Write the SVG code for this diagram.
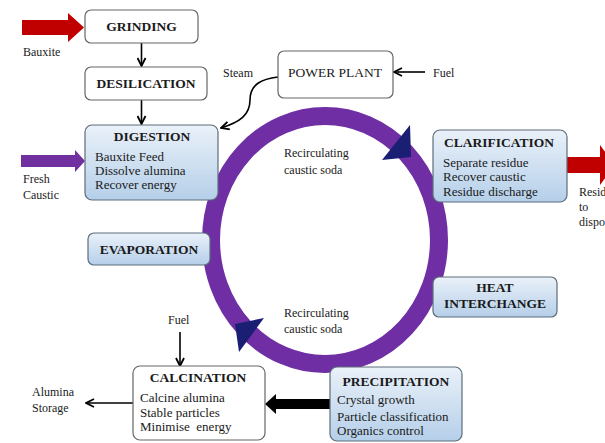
<svg xmlns="http://www.w3.org/2000/svg" width="605" height="443" viewBox="0 0 605 443">
<defs>
<linearGradient id="blue" x1="0" y1="0" x2="0" y2="1">
<stop offset="0" stop-color="#eaf1f9"/>
<stop offset="1" stop-color="#b5cfe9"/>
</linearGradient>
<marker id="v" viewBox="0 0 10 10" refX="9" refY="5" markerWidth="10" markerHeight="10" markerUnits="userSpaceOnUse" orient="auto">
<path d="M1 1 L9 5 L1 9" fill="none" stroke="#000" stroke-width="1.8"/>
</marker>
<style>
.t{font-family:"Liberation Serif","Times New Roman",serif;font-size:13px;fill:#1a1a1a}
.h{font-family:"Liberation Serif","Times New Roman",serif;font-size:13.5px;font-weight:bold;fill:#1a1a1a}
.s{font-family:"Liberation Serif","Times New Roman",serif;font-size:12px;fill:#1a1a1a}
.wb{fill:#fff;stroke:#666;stroke-width:1.2}
.bb{fill:url(#blue);stroke:#5d6d7c;stroke-width:1.2}
.ln{fill:none;stroke:#000;stroke-width:1.6;marker-end:url(#v)}
</style>
</defs>

<g id="ring">
<ellipse cx="325" cy="240" rx="114" ry="124" fill="none" stroke="#6f2ea3" stroke-width="18"/>
<polygon points="410,125 382,160 411,157" fill="#1b1f73"/>
<polygon points="264,318 235,324 239,352" fill="#1b1f73"/>
<text class="s" x="284" y="157">Recirculating</text>
<text class="s" x="284" y="174">caustic soda</text>
<text class="s" x="284" y="317">Recirculating</text>
<text class="s" x="284" y="333">caustic soda</text>
</g>

<g id="connectors">
<polygon points="22,20 68,20 68,13 84,27.5 68,42 68,35 22,35" fill="#c00000"/>
<polygon points="21,155 75,155 75,150 85,161 75,172 75,167 21,167" fill="#7030a0"/>
<polygon points="567,157 600,157 600,145 615,165 600,185 600,173 567,173" fill="#c00000"/>
<polygon points="330,399 276,399 276,394 265,404 276,414 276,409 330,409" fill="#000"/>
<line class="ln" x1="141.5" y1="43" x2="141.5" y2="66"/>
<line class="ln" x1="141.5" y1="100" x2="141.5" y2="124"/>
<line class="ln" x1="425" y1="72" x2="394" y2="72"/>
<line class="ln" x1="180" y1="332" x2="180" y2="366"/>
<line class="ln" x1="133" y1="403" x2="86" y2="403"/>
<path class="ln" d="M278 77 C262 79 250 84 250 100 C250 115 240 122 221 128"/>
</g>

<g id="labels">
<text class="s" x="23" y="56">Bauxite</text>
<text class="s" x="23" y="183">Fresh</text>
<text class="s" x="23" y="199">Caustic</text>
<text class="s" x="223" y="77">Steam</text>
<text class="s" x="433" y="77">Fuel</text>
<text class="s" x="168" y="324">Fuel</text>
<text class="s" x="32" y="396">Alumina</text>
<text class="s" x="32" y="412">Storage</text>
<text class="s" x="579" y="196">Residue</text>
<text class="s" x="579" y="211">to</text>
<text class="s" x="579" y="226">disposal</text>
</g>

<g id="grinding">
<rect class="wb" x="85" y="10" width="113" height="33" rx="6"/>
<text class="h" x="141.5" y="31" text-anchor="middle">GRINDING</text>
</g>

<g id="desilication">
<rect class="wb" x="85" y="67" width="122" height="33" rx="6"/>
<text class="h" x="146" y="88" text-anchor="middle">DESILICATION</text>
</g>

<g id="digestion">
<rect class="bb" x="85" y="125" width="133" height="75" rx="7"/>
<text class="h" x="152" y="141" text-anchor="middle">DIGESTION</text>
<text class="t" x="95" y="161">Bauxite Feed</text>
<text class="t" x="95" y="175">Dissolve alumina</text>
<text class="t" x="95" y="189">Recover energy</text>
</g>

<g id="power-plant">
<rect class="wb" x="278" y="51" width="115" height="47" rx="6"/>
<text class="t" x="335" y="77" text-anchor="middle" style="font-size:13.5px">POWER PLANT</text>
</g>

<g id="clarification">
<rect class="bb" x="433" y="130" width="134" height="72" rx="7"/>
<text class="h" x="499" y="147" text-anchor="middle">CLARIFICATION</text>
<text class="t" x="443" y="167">Separate residue</text>
<text class="t" x="443" y="181">Recover caustic</text>
<text class="t" x="443" y="196">Residue discharge</text>
</g>

<g id="evaporation">
<rect class="bb" x="88" y="233" width="122" height="32" rx="6"/>
<text class="h" x="149" y="254" text-anchor="middle">EVAPORATION</text>
</g>

<g id="heat-interchange">
<rect class="bb" x="433" y="277" width="124" height="40" rx="6"/>
<text class="h" x="495" y="292" text-anchor="middle">HEAT</text>
<text class="h" x="495" y="308" text-anchor="middle">INTERCHANGE</text>
</g>

<g id="calcination">
<rect class="wb" x="133" y="366" width="132" height="74" rx="7"/>
<text class="h" x="198" y="382" text-anchor="middle">CALCINATION</text>
<text class="t" x="140" y="402">Calcine alumina</text>
<text class="t" x="140" y="417">Stable particles</text>
<text class="t" x="140" y="431" xml:space="preserve">Minimise  energy</text>
</g>

<g id="precipitation">
<rect class="bb" x="330" y="367" width="132" height="74" rx="7"/>
<text class="h" x="396" y="386" text-anchor="middle">PRECIPITATION</text>
<text class="t" x="337" y="404">Crystal growth</text>
<text class="t" x="337" y="421">Particle classification</text>
<text class="t" x="337" y="435">Organics control</text>
</g>
</svg>
